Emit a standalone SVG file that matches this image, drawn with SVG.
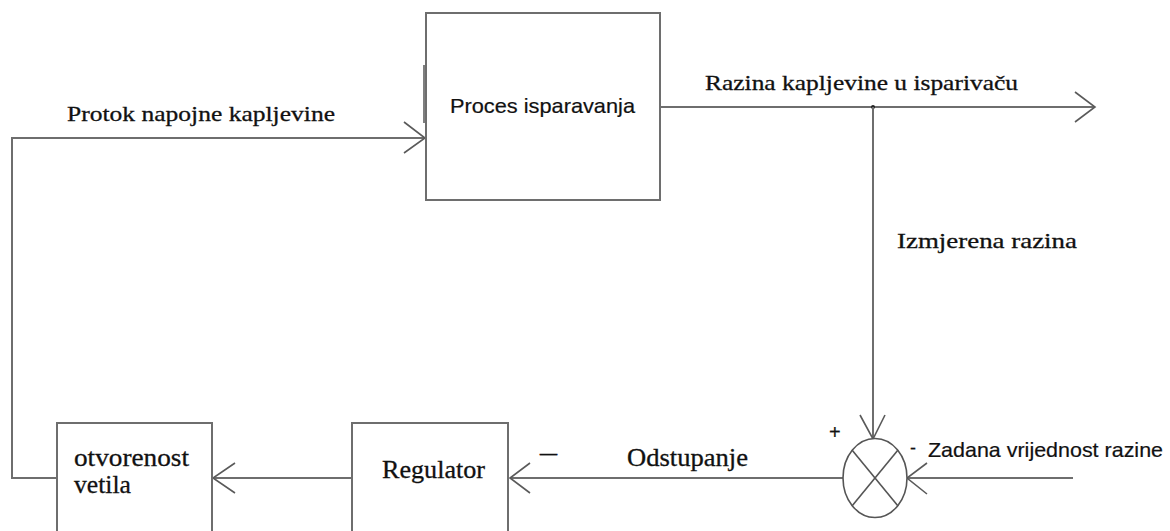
<svg xmlns="http://www.w3.org/2000/svg" width="1170" height="531" viewBox="0 0 1170 531">
<style>
.box{fill:#fff;stroke:#6e6e6e;stroke-width:2}
.ln{fill:none;stroke:#6e6e6e;stroke-width:2}
.ah{fill:none;stroke:#5a5a5a;stroke-width:1.6}
.serif{font-family:"Liberation Serif","Times New Roman",serif;fill:#111;stroke:#111;stroke-width:0.3}
.sans{font-family:"Liberation Sans",Arial,sans-serif;fill:#111;stroke:#111;stroke-width:0.2}
</style>
<rect width="1170" height="531" fill="#fff"/>
<g id="connectors">
  <polyline class="ln" points="57,478 12,478 12,138 425,138"/>
  <polyline class="ah" points="404,122 425,138 404,153"/>
  <line class="ln" x1="660" y1="107" x2="1095" y2="107"/>
  <polyline class="ah" points="1075,92 1095,107 1075,122"/>
  <circle cx="873" cy="107" r="2" fill="#222"/>
  <line class="ln" x1="873" y1="107" x2="873" y2="439"/>
  <polyline class="ah" points="860,415 873,439 885,415"/>
  <line class="ln" x1="1073" y1="478" x2="907" y2="478"/>
  <polyline class="ah" points="927,463 907,478 927,494"/>
  <line class="ln" x1="843" y1="478" x2="510" y2="478"/>
  <polyline class="ah" points="530,463 510,478 530,493"/>
  <line class="ln" x1="352" y1="478" x2="213" y2="478"/>
  <polyline class="ah" points="235,463 213,478 235,493"/>
  <text class="serif" x="67" y="121" font-size="22" textLength="268" lengthAdjust="spacingAndGlyphs">Protok napojne kapljevine</text>
  <text class="serif" x="705" y="90" font-size="22" textLength="313" lengthAdjust="spacingAndGlyphs">Razina kapljevine u isparivaču</text>
  <text class="serif" x="897" y="248" font-size="22" textLength="180" lengthAdjust="spacingAndGlyphs">Izmjerena razina</text>
  <text class="serif" x="627" y="466" font-size="25" textLength="121" lengthAdjust="spacingAndGlyphs">Odstupanje</text>
  <text class="serif" x="540" y="460" font-size="24" textLength="17" lengthAdjust="spacingAndGlyphs">–</text>
  <text class="sans" x="928" y="457" font-size="21" textLength="235" lengthAdjust="spacingAndGlyphs">Zadana vrijednost razine</text>
  <text class="sans" x="829" y="439" font-size="20" stroke-width="0">+</text>
  <text class="sans" x="910" y="454" font-size="18" stroke-width="0">-</text>
</g>
<g id="proces">
  <rect class="box" x="426" y="13" width="234" height="187"/>
  <line x1="424" y1="65" x2="424" y2="123" stroke="#555" stroke-width="1.5"/>
  <text class="sans" x="450" y="113" font-size="21" textLength="185" lengthAdjust="spacingAndGlyphs">Proces isparavanja</text>
</g>
<g id="sumator">
  <ellipse cx="875" cy="478" rx="32" ry="39.5" fill="#fff" stroke="#555" stroke-width="1.6"/>
  <line x1="852" y1="450" x2="898" y2="506" stroke="#555" stroke-width="1.6"/>
  <line x1="898" y1="450" x2="852" y2="506" stroke="#555" stroke-width="1.6"/>
</g>
<g id="regulator">
  <rect class="box" x="352" y="423" width="156" height="130"/>
  <text class="serif" x="382" y="478" font-size="25" textLength="103" lengthAdjust="spacingAndGlyphs">Regulator</text>
</g>
<g id="ventil">
  <rect class="box" x="57" y="423" width="155" height="130"/>
  <text class="serif" x="74" y="466" font-size="26" textLength="115" lengthAdjust="spacingAndGlyphs">otvorenost</text>
  <text class="serif" x="74" y="493" font-size="26" textLength="57" lengthAdjust="spacingAndGlyphs">vetila</text>
</g>
</svg>
